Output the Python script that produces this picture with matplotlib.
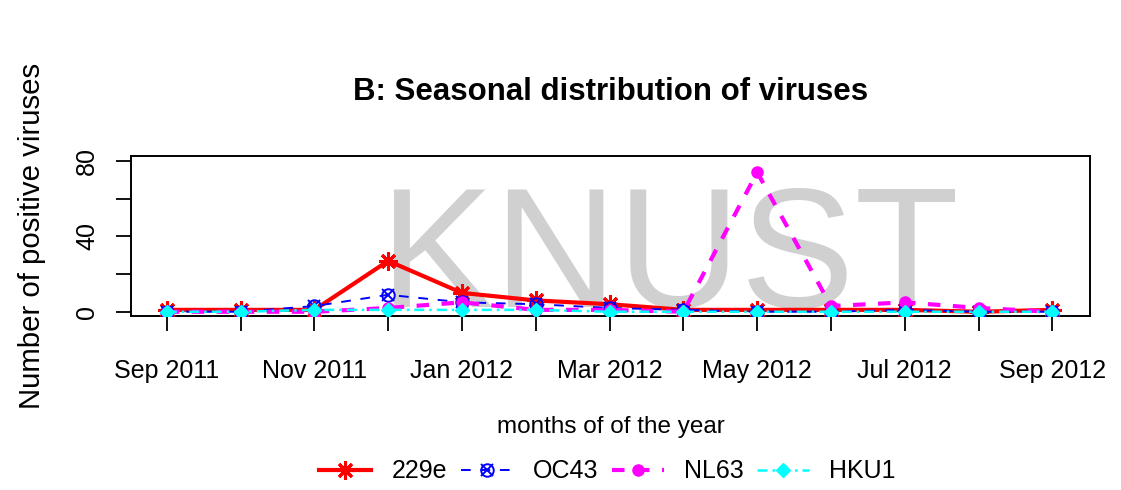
import matplotlib
matplotlib.use("Agg")
import matplotlib.pyplot as plt
from matplotlib.legend_handler import HandlerTuple
import numpy as np

plt.rcParams['font.family'] = ['Liberation Sans', 'DejaVu Sans']

# Monthly counts of positive samples per coronavirus
months = ["Sep 2011", "Oct 2011", "Nov 2011", "Dec 2011", "Jan 2012", "Feb 2012",
          "Mar 2012", "Apr 2012", "May 2012", "Jun 2012", "Jul 2012", "Aug 2012",
          "Sep 2012"]
v229e = [1, 1, 1, 27, 10, 6, 4, 1, 1, 1, 1, 0, 1]
oc43 = [0, 0, 3, 9, 5, 4, 2, 1, 0, 0, 1, 0, 0]
nl63 = [0, 0, 0, 2, 5, 1, 1, 0, 74, 3, 5, 2, 0]
hku1 = [0, 0, 1, 1, 1, 1, 0, 0, 0, 0, 0, 0, 0]
labelled_months = ["Sep 2011", "Nov 2011", "Jan 2012", "Mar 2012", "May 2012",
                   "Jul 2012", "Sep 2012"]
y_ticks = [0, 20, 40, 60, 80]
y_labels = ["0", "", "40", "", "80"]

x = np.arange(len(months))

fig = plt.figure(figsize=(11.21, 4.90), dpi=100)
ax = fig.add_axes([0.1169, 0.3557, 0.9724 - 0.1169, 0.6822 - 0.3557])

# faint watermark behind the data
ax.text(0.5615, 0.054, "KNUST", transform=ax.transAxes, fontsize=123,
        color="#d0d0d0", ha="center", va="baseline", zorder=0)

asterisk = (8, 2, 0)
l1, = ax.plot(x, v229e, color="red", lw=3, marker=asterisk, ms=13, mew=2.2,
              zorder=3)
l2, = ax.plot(x, oc43, color="blue", lw=1.4, ls=(0, (5, 5)), marker="o",
              mfc="none", ms=9, mew=1.4, zorder=4)
l2x, = ax.plot(x, oc43, color="blue", lw=0, marker="x", ms=8, mew=1.4,
               zorder=4)
l3, = ax.plot(x, nl63, color="magenta", lw=3, ls=(0, (3, 3)), marker="o",
              ms=8, zorder=5)
l4, = ax.plot(x, hku1, color="cyan", lw=1.8, ls=(0, (4, 2, 1, 2)), marker="D",
              ms=7, zorder=6)

ax.set_xlim(-0.484, 12.51)
ax.set_ylim(-2.1, 82.8)
ax.set_xticks(x)
ax.set_xticklabels([m if m in labelled_months else "" for m in months],
                   fontsize=18)
ax.set_yticks(y_ticks)
ax.set_yticklabels(y_labels, fontsize=18, rotation=90, va="center")
ax.tick_params(axis="x", length=11, width=1.3, pad=20)
ax.tick_params(axis="y", length=11, width=1.3, pad=12)
for s in ax.spines.values():
    s.set_linewidth(1.4)

ax.set_title("B: Seasonal distribution of viruses", fontsize=22.5,
             fontweight="bold", pad=40)
ax.set_xlabel("months of of the year", fontsize=17.5, labelpad=24)
ax.set_ylabel("Number of positive viruses", fontsize=21.2, labelpad=21)

fig.legend([l1, (l2, l2x), l3, l4], ["229e", "OC43", "NL63", "HKU1"],
           handler_map={tuple: HandlerTuple(ndivide=1)},
           loc="center", bbox_to_anchor=(0.542, 0.038), ncol=4,
           frameon=False, fontsize=18, handlelength=2.08, handletextpad=0.8,
           columnspacing=0.55)

fig.savefig("out.png", dpi=100)
